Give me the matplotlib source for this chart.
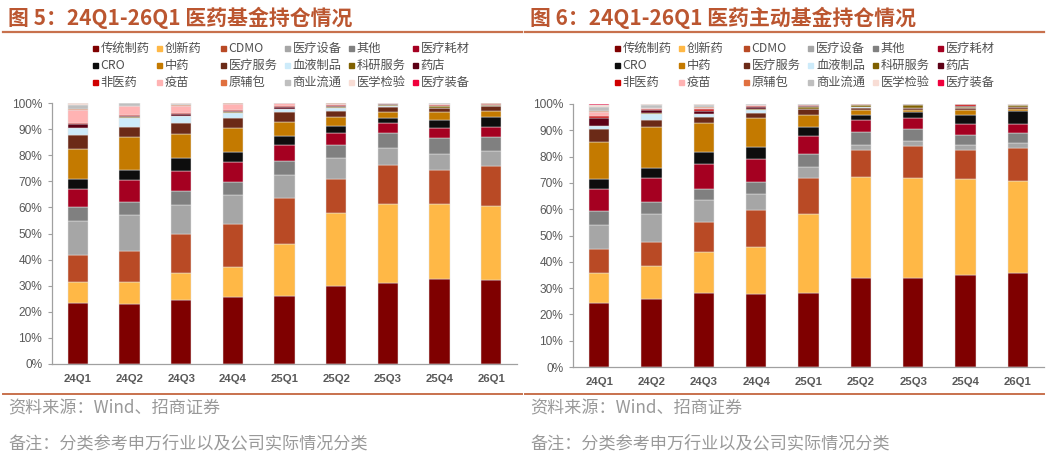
import numpy as np
import matplotlib.pyplot as plt
from matplotlib.patches import Rectangle
from matplotlib.lines import Line2D

plt.rcParams['font.family'] = ['Noto Sans CJK SC', 'DejaVu Sans']

quarters = ['24Q1', '24Q2', '24Q3', '24Q4', '25Q1', '25Q2', '25Q3', '25Q4', '26Q1']
categories = ['传统制药', '创新药', 'CDMO', '医疗设备', '其他', '医疗耗材',
              'CRO', '中药', '医疗服务', '血液制品', '科研服务', '药店',
              '非医药', '疫苗', '原辅包', '商业流通', '医学检验', '医疗装备']
colors = ['#7F0000', '#FFB846', '#B94A25', '#A6A6A6', '#808080', '#A50021',
          '#0D0D0D', '#C47A00', '#6B2A17', '#CDEBFA', '#7F6000', '#5C0015',
          '#D00000', '#FFB3B3', '#E0703F', '#BFBFBF', '#F8DDD5', '#F0003C']

# 图5 医药基金持仓 (%), 顺序同 categories
fund_24q1 = [23.4, 7.9, 10.5, 12.9, 5.3, 7.0, 3.9, 11.4, 5.4, 2.8, 0.1, 1.2, 0.6, 5.0, 0.2, 1.8, 0.5, 0.1]
fund_24q2 = [23.1, 8.4, 11.9, 13.7, 5.0, 8.4, 4.0, 12.5, 3.8, 3.6, 0.1, 0.6, 0.2, 3.4, 0.1, 1.1, 0.1, 0.0]
fund_24q3 = [24.4, 10.3, 15.0, 11.2, 5.3, 7.7, 5.0, 9.1, 4.5, 2.5, 0.1, 0.6, 0.3, 2.9, 0.4, 0.5, 0.2, 0.0]
fund_24q4 = [25.5, 11.7, 16.3, 11.4, 4.8, 7.6, 4.1, 9.0, 3.7, 2.2, 0.2, 0.6, 0.3, 2.1, 0.4, 0.1, 0.0, 0.0]
fund_25q1 = [26.2, 19.9, 17.4, 8.9, 5.4, 6.0, 3.5, 5.3, 3.8, 1.2, 0.2, 0.6, 0.3, 1.2, 0.1, 0.0, 0.0, 0.0]
fund_25q2 = [30.0, 27.9, 13.1, 7.8, 5.1, 4.6, 2.7, 3.4, 2.3, 1.3, 0.4, 0.3, 0.2, 0.7, 0.1, 0.1, 0.0, 0.0]
fund_25q3 = [30.9, 30.5, 15.0, 6.3, 5.9, 3.7, 2.1, 2.3, 1.8, 0.3, 0.5, 0.2, 0.2, 0.2, 0.1, 0.0, 0.0, 0.0]
fund_25q4 = [32.6, 28.6, 13.0, 6.3, 6.0, 3.9, 3.1, 2.9, 1.5, 0.2, 0.6, 0.2, 0.2, 0.5, 0.1, 0.2, 0.1, 0.0]
fund_26q1 = [32.1, 28.3, 15.3, 6.0, 5.3, 3.9, 3.8, 2.2, 1.9, 0.1, 0.4, 0.1, 0.1, 0.1, 0.4, 0.0, 0.0, 0.0]

# 图6 医药主动基金持仓 (%)
active_24q1 = [24.4, 11.4, 9.1, 9.0, 5.3, 8.3, 3.8, 14.3, 4.8, 1.3, 0.1, 2.8, 0.9, 1.5, 0.2, 1.6, 1.0, 0.2]
active_24q2 = [25.8, 12.6, 9.3, 10.3, 4.8, 9.1, 3.8, 15.7, 2.7, 2.0, 0.3, 1.4, 0.3, 0.2, 0.1, 1.2, 0.4, 0.0]
active_24q3 = [28.0, 15.8, 11.3, 8.3, 4.1, 9.8, 4.6, 10.7, 2.5, 1.0, 0.2, 1.1, 0.6, 0.6, 0.2, 0.8, 0.4, 0.0]
active_24q4 = [27.8, 17.9, 13.9, 6.1, 4.8, 8.7, 4.5, 10.9, 2.1, 1.1, 0.2, 0.9, 0.5, 0.2, 0.2, 0.2, 0.0, 0.0]
active_25q1 = [28.0, 30.0, 13.9, 4.0, 5.1, 6.7, 3.6, 4.6, 2.2, 0.1, 0.6, 0.5, 0.3, 0.1, 0.1, 0.1, 0.0, 0.1]
active_25q2 = [33.7, 38.7, 10.0, 1.9, 4.9, 4.6, 2.1, 1.9, 0.8, 0.1, 0.8, 0.3, 0.1, 0.0, 0.1, 0.0, 0.0, 0.0]
active_25q3 = [33.9, 38.1, 12.2, 1.9, 4.4, 4.2, 2.1, 1.0, 0.8, 0.0, 1.0, 0.3, 0.1, 0.0, 0.0, 0.0, 0.0, 0.0]
active_25q4 = [35.1, 36.2, 11.1, 2.2, 3.5, 4.3, 3.5, 1.7, 0.7, 0.0, 0.6, 0.2, 0.8, 0.0, 0.0, 0.1, 0.0, 0.0]
active_26q1 = [35.6, 35.3, 12.4, 1.8, 3.9, 3.4, 4.8, 1.0, 0.5, 0.0, 0.8, 0.1, 0.2, 0.1, 0.0, 0.1, 0.0, 0.0]

fund = np.array([fund_24q1, fund_24q2, fund_24q3, fund_24q4, fund_25q1,
                 fund_25q2, fund_25q3, fund_25q4, fund_26q1]).T
active = np.array([active_24q1, active_24q2, active_24q3, active_24q4, active_25q1,
                   active_25q2, active_25q3, active_25q4, active_26q1]).T

W, H = 1050, 458
red = '#BB5630'
fig = plt.figure(figsize=(W / 100, H / 100), dpi=100)


def fx(px):
    return px / W


def fy(py):
    return 1 - py / H


def panel(off, title, data, ax_box, leg_x0, leg_dx):
    # 标题 + 下划线
    fig.text(fx(off + 8), fy(18), title, fontsize=15, fontweight='bold',
             color=red, ha='left', va='center')
    fig.add_artist(Line2D([fx(off + 3), fx(off + 522)], [fy(32), fy(32)],
                          color='#C8714D', lw=1.6))
    # 图例 (3行6列)
    for i, name in enumerate(categories):
        r, c = divmod(i, 6)
        x = leg_x0 + c * leg_dx
        y = 48 + r * 17.3
        fig.add_artist(Rectangle((fx(x - 2.5), fy(y + 2.5)), 5 / W, 5 / H,
                                 transform=fig.transFigure, color=colors[i]))
        fig.text(fx(x + 5.5), fy(y), name, fontsize=8.8, color='#505050',
                 ha='left', va='center')

    ax = fig.add_axes(ax_box)
    x = np.arange(len(quarters))
    bottom = np.zeros(len(quarters))
    for i in range(len(categories)):
        ax.bar(x, data[i], 0.39, bottom=bottom, color=colors[i],
               edgecolor='#E3E3E3', linewidth=0.35)
        bottom += data[i]
    ax.set_xlim(-0.5, 8.5)
    ax.set_ylim(0, 100)
    ax.set_yticks(range(0, 101, 10))
    ax.set_yticklabels([f'{v}%' for v in range(0, 101, 10)],
                       family='Liberation Sans', fontsize=8.6, color='#595959')
    ax.set_xticks(x)
    ax.set_xticklabels(quarters, family='Liberation Sans', fontsize=8.2,
                       fontweight='bold', color='#595959')
    ax.tick_params(axis='x', length=0, pad=7)
    ax.tick_params(axis='y', length=3, color='#A0A0A0', pad=4)
    for s in ['top', 'right']:
        ax.spines[s].set_visible(False)
    for s in ['left', 'bottom']:
        ax.spines[s].set_color('#A0A0A0')
        ax.spines[s].set_linewidth(0.9)

    # 底部分隔线与注释
    fig.add_artist(Line2D([fx(off + 3), fx(off + 522)], [fy(394), fy(394)],
                          color='#C8714D', lw=1.4))
    fig.text(fx(off + 8), fy(408), '资料来源：Wind、招商证券', fontsize=12.3,
             color='#999999', ha='left', va='center')
    fig.text(fx(off + 8), fy(443), '备注：分类参考申万行业以及公司实际情况分类',
             fontsize=12.3, color='#999999', ha='left', va='center')


panel(0, '图 5：24Q1-26Q1 医药基金持仓情况', fund,
      [fx(52), fy(364), fx(517) - fx(52), fy(103) - fy(364)], 95, 64)
panel(522, '图 6：24Q1-26Q1 医药主动基金持仓情况', active,
      [fx(573), fy(367), fx(1044) - fx(573), fy(104) - fy(367)], 617, 64.6)

fig.savefig('out.png', dpi=100)
